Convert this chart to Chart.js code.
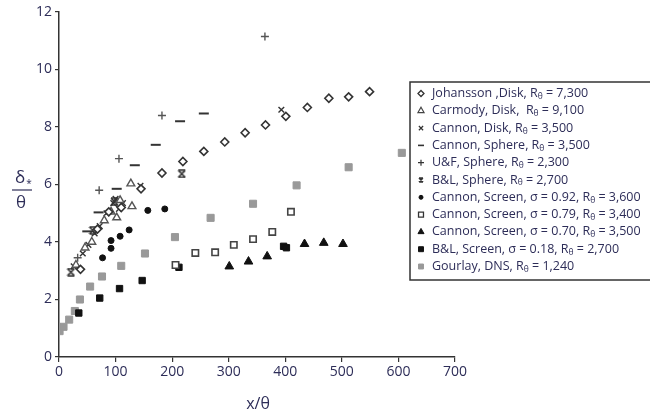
<!DOCTYPE html>
<html>
<head>
<meta charset="utf-8">
<script src="https://cdn.jsdelivr.net/npm/chart.js@4.4.1/dist/chart.umd.min.js"></script>
<style>
  body { margin: 0; background: #fff; }
  #wrap { width: 650px; height: 420px; position: relative; }
</style>
</head>
<body>
<div id="wrap"><canvas id="c" width="650" height="420"></canvas></div>
<script>
// values, [x/theta, delta*/theta]
const johansson = [[38,3.05],[68,4.45],[88,5.05],[110,5.2],[145,5.85],[182,6.4],[219,6.8],[256,7.15],[293,7.48],[329,7.8],[365,8.07],[401,8.37],[439,8.68],[477,9.0],[512,9.05],[549,9.23]];
const carmody = [[30,3.2],[46,3.8],[58,4.0],[80,4.75],[92,5.05],[102,4.85],[108,5.45],[127,6.03],[129,5.24]];
const cannonDisk = [[26,3.15],[42,3.6],[52,3.9],[63,4.3],[72,4.55],[84,5.0],[96,5.35],[100,5.5],[106,5.15],[113,5.35],[144,5.95],[393,8.6]];
const cannonSphere = [[50,4.37],[70,5.03],[102,5.85],[134,6.67],[171,7.38],[214,8.2],[256,8.47]];
const ufSphere = [[33,3.45],[71,5.8],[106,6.9],[182,8.4],[364,11.15]];
const blSphere = [[21,2.95],[60,4.4],[98,5.4],[217,6.37]];
const screen92 = [[77,3.45],[92,3.78],[92,4.05],[108,4.2],[124,4.42],[157,5.1],[187,5.15]];
const screen79 = [[206,3.2],[241,3.62],[276,3.64],[309,3.9],[343,4.1],[377,4.35],[410,5.05]];
const screen70 = [[301,3.15],[335,3.32],[368,3.5],[434,3.93],[468,3.97],[502,3.93]];
const blScreen = [[35,1.53],[72,2.05],[107,2.38],[147,2.66],[212,3.12],[397,3.85],[402,3.8]];
const gourlay = [[1,0.9],[8,1.05],[18,1.3],[28,1.6],[37,2.0],[55,2.45],[76,2.8],[110,3.17],[152,3.6],[205,4.17],[268,4.84],[343,5.33],[420,5.97],[512,6.6],[606,7.1]];

const legendNames = ['Johansson ,Disk, ', 'Carmody, Disk,  ', 'Cannon, Disk, ', 'Cannon, Sphere, ', 'U&F, Sphere, ', 'B&L, Sphere, ',
  'Cannon, Screen, \u03c3 = 0.92, ', 'Cannon, Screen, \u03c3 = 0.79, ', 'Cannon, Screen, \u03c3 = 0.70, ', 'B&L, Screen, \u03c3 = 0.18, ', 'Gourlay, DNS, '];
const legendRe = ['7,300', '9,100', '3,500', '3,500', '2,300', '2,700', '3,600', '3,400', '3,500', '2,700', '1,240'];

const textColor = '#2d2d58';

// hourglass marker (x with bars) for B&L sphere
function hourglass(size){
  const cv = document.createElement('canvas');
  cv.width = size; cv.height = size;
  const g = cv.getContext('2d');
  g.strokeStyle = '#333'; g.lineWidth = 1.6;
  g.beginPath();
  g.moveTo(1,1); g.lineTo(size-1,size-1);
  g.moveTo(size-1,1); g.lineTo(1,size-1);
  g.moveTo(1,1); g.lineTo(size-1,1);
  g.moveTo(1,size-1); g.lineTo(size-1,size-1);
  g.stroke();
  return cv;
}

function pts(arr){ return arr.map(p => ({x: p[0], y: p[1]})); }

function ds(arr, style, radius, bg, border, bw){
  return {
    data: pts(arr), pointStyle: style, pointRadius: radius, pointHoverRadius: radius,
    backgroundColor: bg, borderColor: border, pointBorderWidth: bw, showLine: false
  };
}

const datasets = [
  ds(johansson, 'rectRot', 4, '#fff', '#333', 1.6),
  ds(carmody, 'triangle', 4.5, '#fff', '#555', 1.4),
  ds(cannonDisk, 'crossRot', 4, '#fff', '#333', 1.4),
  ds(cannonSphere, 'line', 5, '#333', '#333', 2),
  ds(ufSphere, 'cross', 4, '#555', '#555', 1.4),
  ds(blSphere, hourglass(9), 4, '#333', '#333', 1),
  ds(screen92, 'circle', 3, '#111', '#111', 1),
  ds(screen79, 'rect', 4.5, '#fff', '#444', 1.6),
  ds(screen70, 'triangle', 5, '#111', '#111', 1),
  ds(blScreen, 'rect', 4.5, '#111', '#111', 1),
  ds(gourlay, 'rect', 5, '#999', '#999', 1)
];

const legendMarks = [
  ['rectRot', 3, '#fff', '#333', 1.3], ['triangle', 3.5, '#fff', '#444', 1.2], ['crossRot', 3, '#fff', '#333', 1.2],
  ['line', 3, '#333', '#333', 1.6], ['cross', 3, '#333', '#333', 1.2], [hourglass(6), 3, '#333', '#333', 1],
  ['circle', 2, '#111', '#111', 1], ['rect', 3.5, '#fff', '#333', 1.3], ['triangle', 3.5, '#111', '#111', 1],
  ['rect', 3.5, '#111', '#111', 1], ['rect', 3.5, '#999', '#999', 1]
];

const decorations = {
  id: 'decorations',
  afterDraw(chart){
    const ctx = chart.ctx;
    ctx.save();
    // y axis fraction title
    ctx.fillStyle = textColor;
    ctx.textAlign = 'center';
    ctx.textBaseline = 'middle';
    ctx.font = '17px "Open Sans"';
    ctx.fillText('\u03b4', 20, 178);
    ctx.font = '10px "Open Sans"';
    ctx.fillText('*', 29, 184);
    ctx.font = '17px "Open Sans"';
    ctx.fillText('\u03b8', 21, 203);
    ctx.strokeStyle = textColor;
    ctx.lineWidth = 1.2;
    ctx.beginPath(); ctx.moveTo(12, 190); ctx.lineTo(32, 190); ctx.stroke();
    // x axis title
    ctx.font = '16px "Open Sans"';
    ctx.fillText('x/\u03b8', 258, 404);

    // legend box
    ctx.fillStyle = '#fff';
    ctx.fillRect(410, 82, 245, 198);
    ctx.strokeStyle = '#333';
    ctx.lineWidth = 1.5;
    ctx.strokeRect(410, 82, 245, 198);
    ctx.textAlign = 'left';
    for (let i = 0; i < legendNames.length; i++) {
      const y = 93.5 + i * 17.3;
      const m = legendMarks[i];
      ctx.fillStyle = m[2]; ctx.strokeStyle = m[3]; ctx.lineWidth = m[4];
      Chart.helpers.drawPoint(ctx, {pointStyle: m[0], radius: m[1], borderWidth: m[4], rotation: 0}, 421, y);
      ctx.fillStyle = textColor;
      ctx.font = '12.5px "Open Sans"';
      let x = 432;
      const s1 = legendNames[i] + 'R';
      ctx.fillText(s1, x, y);
      x += ctx.measureText(s1).width;
      ctx.font = '8.5px "Open Sans"';
      ctx.fillText('\u03b8', x, y + 3);
      x += ctx.measureText('\u03b8').width;
      ctx.font = '12.5px "Open Sans"';
      ctx.fillText(' = ' + legendRe[i], x, y);
    }
    ctx.restore();
  }
};

new Chart(document.getElementById('c'), {
  type: 'scatter',
  data: { datasets: datasets },
  options: {
    responsive: false,
    animation: false,
    layout: { padding: { top: 12, right: 195, left: 0, bottom: 0 } },
    plugins: { legend: { display: false }, tooltip: { enabled: false } },
    scales: {
      x: {
        type: 'linear', min: 0, max: 700,
        afterFit(scale){ scale.height = 63; },
        border: { display: true, color: '#333', width: 1.5 },
        grid: { display: true, drawOnChartArea: false, drawTicks: true, tickLength: 5, color: '#333', lineWidth: 1.2 },
        ticks: { stepSize: 100, color: textColor, padding: 2, font: { family: '"Open Sans"', size: 14 } }
      },
      y: {
        type: 'linear', min: 0, max: 12,
        afterFit(scale){ scale.width = 59; },
        border: { display: true, color: '#333', width: 1.5 },
        grid: { display: true, drawOnChartArea: false, drawTicks: true, tickLength: 4, color: '#333', lineWidth: 1.2 },
        ticks: { stepSize: 2, color: textColor, padding: 3, font: { family: '"Open Sans"', size: 14 } }
      }
    }
  },
  plugins: [decorations]
});
</script>
</body>
</html>
